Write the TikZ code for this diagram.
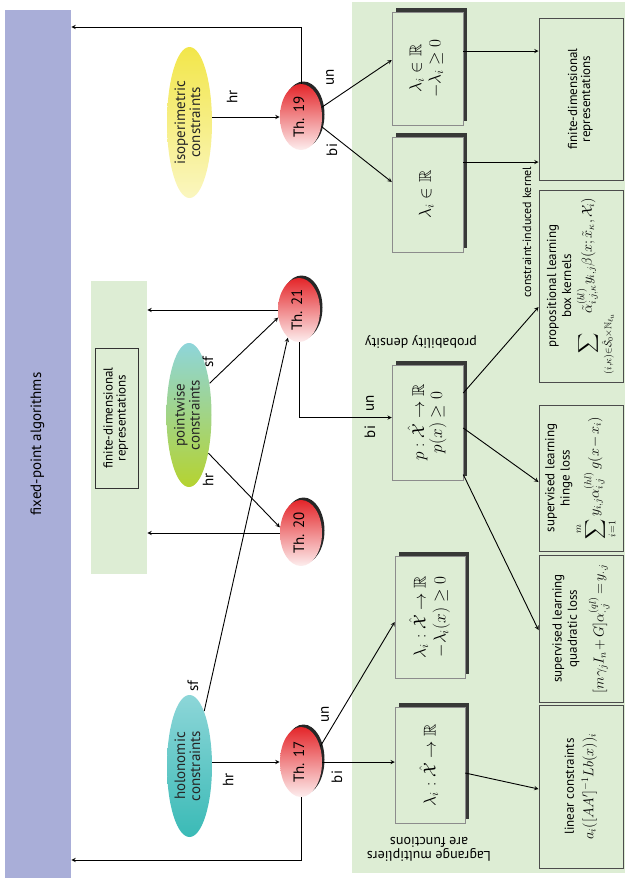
\documentclass[tikz,border=0pt]{standalone}
\usepackage{amssymb}
\usepackage{graphicx}
\usepackage{fontspec}
\setmainfont{PT Sans}
\usetikzlibrary{shapes.geometric,shadows}

\definecolor{pblue}{HTML}{A9AED8}
\definecolor{pgreen}{HTML}{DDEDD4}
\definecolor{thred}{HTML}{E4262A}
\definecolor{isoY}{HTML}{F2E64A}
\definecolor{ptop}{HTML}{8ED5DA}
\definecolor{pmid}{HTML}{56B96D}
\definecolor{pbot}{HTML}{B5D330}
\definecolor{htop}{HTML}{8DD6D8}
\definecolor{hbot}{HTML}{3ABAB6}

\newcommand{\rtext}[1]{\rotatebox{90}{\begin{tabular}{@{}c@{}}#1\end{tabular}}}
\newcommand{\fsz}[1]{\fontsize{#1}{#1}\selectfont}
\newcommand{\fml}{\fsz{14}\medmuskip=2mu\thickmuskip=3mu}

\begin{document}
\begin{tikzpicture}[x=1pt,y=-1pt,>=stealth,line width=0.9pt,
  cons/.style={ellipse,inner sep=0pt,minimum width=45pt,text=black!85,font=\fsz{15}},
  thm/.style={ellipse,inner sep=0pt,minimum width=42pt,minimum height=66pt,
    top color=thred,middle color=thred!85!white,bottom color=thred!8,
    drop shadow={shadow xshift=2.5pt,shadow yshift=2.5pt,fill=black,opacity=.85},font=\fsz{15}},
  mbox/.style={draw=black!45,line width=0.5pt,fill=pgreen,minimum width=71pt,inner sep=0pt,
    drop shadow={shadow xshift=4pt,shadow yshift=4pt,fill=black!85,opacity=.9},font=\fsz{17}},
  rbox/.style={draw=black!70,line width=1pt,fill=pgreen,minimum width=84pt,inner sep=0pt,font=\fsz{13}},
  lab/.style={rotate=90,inner sep=1pt,font=\fsz{15}},
]
\useasboundingbox (0,0) rectangle (625,879);

% panels
\fill[pgreen] (352,2) rectangle (625,873);
\node[fill=pblue,minimum width=66pt,minimum height=868pt,inner sep=0pt,font=\fsz{15}] (fpa) at (38,444) {\rtext{fixed-point algorithms}};
\node[fill=pgreen,minimum width=56pt,minimum height=293pt,inner sep=0pt] (fdpanel) at (119,427.5) {};
\node[draw=black!80,minimum width=43pt,minimum height=140pt,inner sep=0pt,font=\fsz{13}] (fdL) at (116.5,418) {\rtext{finite-dimensional\\representations}};

% constraints
\node[cons,minimum height=151pt,top color=isoY,middle color=isoY,bottom color=isoY!35] (iso) at (189.5,122.5) {\rtext{isoperimetric\\constraints}};
\node[cons,minimum height=144pt,top color=ptop,middle color=pmid,bottom color=pbot] (point) at (189,415) {\rtext{pointwise\\constraints}};
\node[cons,minimum height=142pt,top color=htop,bottom color=hbot] (holo) at (189.5,766) {\rtext{holonomic\\constraints}};

% theorems
\node[thm] (th19) at (301,117) {\rtext{Th. 19}};
\node[thm,minimum height=64pt] (th21) at (299,310) {\rtext{Th. 21}};
\node[thm] (th20) at (301,533) {\rtext{Th. 20}};
\node[thm,minimum height=70pt] (th17) at (301,762) {\rtext{Th. 17}};

% multipliers
\node[mbox,minimum height=113pt] (boxA) at (427.5,68.5) {\rtext{$\lambda_i\in\mathbb{R}$\\[2pt] $-\lambda_i\geq 0$}};
\node[mbox,minimum height=115pt] (boxB) at (427.5,194.5) {\rtext{$\lambda_i\in\mathbb{R}$}};
\node[mbox,minimum height=115pt] (boxC) at (427.5,422.5) {\rtext{$p:\hat{\mathcal{X}}\to\mathbb{R}$\\ $p(x)\geq 0$}};
\node[mbox,minimum width=70pt,minimum height=122pt] (boxD) at (430,617) {\rtext{$\lambda_i:\hat{\mathcal{X}}\to\mathbb{R}$\\[2pt] $-\lambda_i(x)\geq 0$}};
\node[mbox,minimum width=70pt,minimum height=116pt] (boxE) at (430,765) {\rtext{$\lambda_i:\hat{\mathcal{X}}\to\mathbb{R}$}};

% representations
\node[rbox,minimum height=162pt] (fdR) at (581,99) {\rtext{finite-dimensional\\representations}};
\node[rbox,minimum height=192pt] (boxG) at (581,286) {\rtext{propositional learning\\[2pt] box kernels\\[2pt] \fml$\displaystyle\sum_{(i,\kappa)\in\hat{\mathcal{S}}_0\times\mathbb{N}_{\ell_u}}\!\tilde{\alpha}^{(bl)}_{i,j,\kappa}y_{i,j}\beta(x;\tilde{x}_\kappa,\mathcal{X}_i)$}};
\node[rbox,minimum height=146pt] (boxH) at (581,478) {\rtext{supervised learning\\[2pt] hinge loss\\[2pt] \fml$\displaystyle\sum_{i=1}^{m}y_{i,j}\alpha^{(hl)}_{i,j}\,g(x-x_i)$}};
\node[rbox,minimum height=147pt] (boxI) at (581,628.5) {\rtext{supervised learning\\[2pt] quadratic loss\\[8pt] \fml$[m\gamma_jI_n+G]\alpha^{(ql)}_{\cdot,j}=y_{\cdot,j}$}};
\node[rbox,minimum height=163pt] (boxJ) at (581,786.5) {\rtext{linear constraints\\[4pt] \fml$a_i([AA']^{-1}Lb(x))_i$}};

% free texts
\node[rotate=180,font=\fsz{14}] (pd) at (421,342) {probability density};
\node[rotate=180,align=center,font=\fsz{14}] (lmf) at (429,849) {Lagrange multipliers\\are functions};
\node[rotate=90,font=\fsz{12}] (cik) at (527,232) {constraint-induced kernel};

% constraints to theorems
\draw[->] (iso.east |- th19.west) -- (th19.west);
\draw[->] (point.57) -- (th21.200);
\draw[->] (point.-63) -- (th20.165);
\draw[->] (holo.75) -- (th21.248);
\draw[->] (holo.east |- th17.west) -- (th17.west);

% theorems to fixed-point algorithms
\coordinate (ytop) at (0,27);
\coordinate (ybot) at (0,860);
\draw[->] (th19.north) |- (fpa.east |- ytop);
\draw[->] (th17.south) |- (fpa.east |- ybot);
\draw[->] (th21.west) -- (th21.west -| fdpanel.east);
\draw[->] (th20.west) -- (th20.west -| fdpanel.east);

% theorems to multipliers
\draw[->] (th19.25) -- ([yshift=8.5pt]boxA.west);
\draw[->] (th19.-25) -- ([yshift=12.5pt]boxB.west);
\draw[->] (th21.south) |- ([yshift=5pt]boxC.west);
\draw[->] (th17.39) -- ([yshift=-5pt]boxD.west);
\draw[->] (th17.east) -- (th17.east -| boxE.west);

% multipliers to representations
\draw[->] ([yshift=17.5pt]boxA.east) -- ([yshift=17.5pt]boxA.east -| fdR.west);
\draw[->] ([yshift=32.5pt]boxB.east) -- ([yshift=32.5pt]boxB.east -| fdR.west);
\draw[->] ([yshift=29.5pt]boxC.east) -- ([yshift=-21pt]boxG.west);
\draw[->] ([yshift=-5.5pt]boxC.east) -- ([yshift=-4pt]boxH.west);
\draw[->] ([yshift=-52pt]boxC.east) -- ([yshift=-1.5pt]boxI.west);
\draw[->] ([yshift=-8pt]boxE.east) -- ([yshift=-2.5pt]boxJ.west);

% edge labels
\node[lab] (l1) at (232,97) {hr};
\node[lab] (l2) at (330,77) {un};
\node[lab] (l3) at (332,150) {bi};
\node[lab] (l4) at (208,362) {sf};
\node[lab] (l5) at (208,480) {hr};
\node[lab] (l6) at (193,686) {sf};
\node[lab] (l7) at (228,780) {hr};
\node[lab] (l8) at (370,403) {un};
\node[lab] (l9) at (370,432) {bi};
\node[lab] (l10) at (325,714) {un};
\node[lab] (l11) at (337,777) {bi};

\end{tikzpicture}
\end{document}
